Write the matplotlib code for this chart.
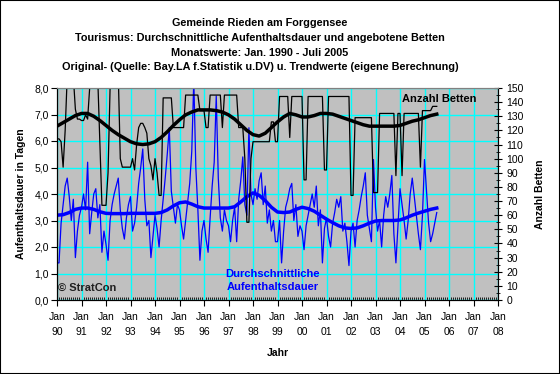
import numpy as np
import matplotlib
matplotlib.use('Agg')
import matplotlib.pyplot as plt
from matplotlib.ticker import MultipleLocator, FuncFormatter

plt.rcParams['font.family'] = ['Liberation Sans', 'DejaVu Sans']

# Monatswerte Jan. 1990 - Juli 2005
dauer = [
    1.4, 1.4, 2.9, 3.6, 4.3, 4.6, 3.9, 3.0, 3.8, 1.6, 2.6, 3.2,   # 1990
    3.5, 4.0, 3.4, 5.2, 2.5, 3.3, 4.0, 4.2, 3.1, 3.6, 1.8, 2.6,   # 1991
    2.1, 1.5, 3.0, 3.6, 4.0, 4.3, 4.6, 3.4, 2.7, 2.3, 3.1, 3.6,   # 1992
    3.9, 2.6, 2.9, 3.5, 4.4, 5.0, 5.7, 3.8, 2.8, 3.0, 1.6, 2.4,   # 1993
    3.2, 2.7, 2.0, 3.0, 3.8, 4.6, 5.5, 6.5, 4.1, 3.5, 2.9, 3.6,   # 1994
    3.4, 2.8, 2.3, 3.0, 3.7, 4.4, 5.6, 8.3, 5.0, 3.4, 1.5, 2.6,   # 1995
    3.0, 2.3, 1.8, 3.1, 4.3, 5.2, 7.7, 4.6, 3.1, 2.6, 3.4, 3.0,   # 1996
    2.8, 2.2, 3.0, 3.5, 2.2, 3.8, 4.5, 5.4, 3.6, 3.2, 6.5, 4.0,   # 1997
    3.6, 4.2, 3.8, 4.5, 4.8, 3.6, 4.3, 2.9, 3.4, 2.6, 3.0, 2.2,   # 1998
    2.2, 3.0, 1.4, 2.6, 3.5, 3.8, 4.2, 4.4, 3.0, 3.6, 2.4, 2.8,   # 1999
    2.6, 1.9, 2.8, 3.2, 3.6, 4.0, 3.5, 4.3, 2.8, 3.4, 1.4, 2.7,   # 2000
    3.1, 2.4, 2.0, 2.9, 3.3, 3.8, 3.5, 3.9, 2.6, 2.9, 2.2, 1.3,   # 2001
    2.6, 2.9, 2.0, 3.0, 3.4, 3.9, 4.3, 4.8, 3.2, 2.7, 2.2, 5.3,   # 2002
    3.5, 2.6, 3.0, 2.0, 3.2, 3.9, 3.5, 4.0, 4.7, 2.5, 1.4, 2.8,   # 2003
    4.2, 3.6, 3.0, 2.3, 3.0, 4.0, 4.6, 3.9, 3.2, 2.5, 1.9, 3.2,   # 2004
    5.3, 4.1, 2.9, 2.2, 2.5, 2.9, 3.3,                            # 2005
]

betten = [
    114, 114, 112, 94, 120, 158, 165, 165, 158, 135, 128, 128,    # 1990
    127, 127, 131, 128, 150, 165, 165, 165, 155, 110, 67, 67,     # 1991
    67, 90, 150, 165, 165, 165, 160, 100, 94, 94, 94, 94,         # 1992
    94, 100, 92, 110, 122, 125, 125, 122, 118, 100, 95, 85,       # 1993
    100, 90, 74, 74, 143, 143, 143, 143, 143, 122, 122, 122,      # 1994
    122, 122, 122, 145, 145, 145, 145, 145, 145, 145, 134, 134,   # 1995
    134, 122, 122, 145, 145, 145, 145, 145, 145, 122, 145, 145,   # 1996
    145, 145, 145, 145, 145, 122, 122, 122, 100, 55, 55, 100,     # 1997
    112, 112, 112, 112, 112, 112, 112, 112, 112, 126, 126, 112,   # 1998
    112, 144, 144, 144, 144, 144, 115, 144, 144, 144, 144, 144,   # 1999
    144, 85, 85, 144, 144, 144, 144, 144, 144, 144, 144, 92,      # 2000
    92, 144, 144, 144, 144, 144, 144, 144, 144, 144, 144, 144,    # 2001
    74, 74, 129, 129, 129, 129, 129, 129, 129, 129, 129, 76,      # 2002
    76, 76, 132, 132, 132, 132, 132, 132, 132, 132, 88, 132,      # 2003
    132, 88, 132, 132, 132, 132, 132, 132, 132, 132, 94, 134,     # 2004
    134, 134, 134, 134, 137, 137, 137,                            # 2005
]

# Trendwerte, vierteljaehrlich (Jan, Apr, Jul, Okt)
dauer_trend = [
    3.20, 3.22, 3.30, 3.42, 3.47, 3.47, 3.42, 3.33, 3.27, 3.26, 3.26, 3.26,
    3.27, 3.27, 3.27, 3.27, 3.27, 3.30, 3.40, 3.55, 3.67, 3.70, 3.62, 3.52,
    3.47, 3.47, 3.47, 3.47, 3.47, 3.52, 3.70, 3.90, 4.04, 3.95, 3.75, 3.50,
    3.32, 3.30, 3.32, 3.42, 3.50, 3.45, 3.35, 3.20, 3.05, 2.92, 2.80, 2.72,
    2.70, 2.72, 2.80, 2.90, 2.98, 3.00, 3.00, 3.00, 3.02, 3.10, 3.20, 3.28,
    3.35, 3.42, 3.47,
]
betten_trend = [
    123, 125.5, 128, 130.5, 132, 132, 130, 127, 123.5, 120, 117, 114.5,
    112, 110.5, 110, 110.5, 112, 115, 119, 123.5, 127.5, 131, 133, 134.5,
    134.5, 134.5, 134, 133, 131, 128, 124, 120, 117, 116, 118, 122,
    126, 129.5, 132, 131, 129.5, 129.5, 130.5, 132, 132, 131.5, 130, 128.5,
    127, 125.5, 124, 123, 123, 123, 123, 123, 123.5, 125, 126.5, 127.5,
    129, 130.5, 131.5,
]

jahre = ['90', '91', '92', '93', '94', '95', '96', '97', '98', '99',
         '00', '01', '02', '03', '04', '05', '06', '07', '08']

x_monat = 1990 + np.arange(len(dauer)) / 12
x_trend = 1990 + 3 * np.arange(len(dauer_trend)) / 12

fig = plt.figure(figsize=(5.6, 3.74), dpi=100)
ax = fig.add_axes([57/560, 74/374, 441/560, 212/374])
ax.set_facecolor('#C0C0C0')
ax.set_xlim(1990, 2008)
ax.set_ylim(0, 8)
ax.set_axisbelow(True)
ax.grid(True, color='#00FFFF', lw=1)

ax.set_xticks(np.arange(1990, 2009))
ax.set_xticklabels(['Jan\n' + j for j in jahre], fontsize=7.5, linespacing=1.55)
ax.xaxis.set_minor_locator(MultipleLocator(1/12))
ax.tick_params(axis='x', which='major', length=4, direction='out', pad=5)
ax.tick_params(axis='x', which='minor', length=2, direction='in')
ax.yaxis.set_major_locator(MultipleLocator(1))
ax.yaxis.set_major_formatter(FuncFormatter(lambda v, p: f'{v:.1f}'.replace('.', ',')))
ax.tick_params(axis='y', length=4, labelsize=7.5, pad=2)

ax.plot(x_monat, dauer, color='#0000FF', lw=0.9)
ax.plot(x_trend, dauer_trend, color='#0000FF', lw=2.5)

ax2 = ax.twinx()
ax2.set_ylim(0, 150)
ax2.yaxis.set_major_locator(MultipleLocator(10))
ax2.yaxis.set_minor_locator(MultipleLocator(5))
ax2.tick_params(axis='y', which='major', length=6, direction='inout', labelsize=7.5, pad=3)
ax2.tick_params(axis='y', which='minor', length=3, direction='inout')
ax2.plot(x_monat, betten, color='black', lw=0.9)
ax2.plot(x_trend, betten_trend, color='black', lw=2.5)

for a in (ax, ax2):
    a.spines['top'].set_color('#808080')

ax.set_ylabel('Aufenthaltsdauer in Tagen', fontsize=7.5, fontweight='bold', labelpad=6)
ax2.set_ylabel('Anzahl Betten', fontsize=7.5, fontweight='bold', labelpad=8)
ax.set_xlabel('Jahr', fontsize=7.5, fontweight='bold', labelpad=8)

ax2.text(2005.6, 142, 'Anzahl Betten', fontsize=8, fontweight='bold', ha='center', va='center')
ax.text(1998.8, 0.75, 'Durchschnittliche\nAufenthaltsdauer', fontsize=8, fontweight='bold',
        color='#0000FF', ha='center', va='center', linespacing=1.35)
ax.text(1990.05, 0.45, '\u00a9 StratCon', fontsize=8, fontweight='bold', color='#202020',
        ha='left', va='center')

titel = ['Gemeinde Rieden am Forggensee',
         'Tourismus: Durchschnittliche Aufenthaltsdauer und angebotene Betten',
         'Monatswerte: Jan. 1990 - Juli 2005',
         'Original- (Quelle: Bay.LA f.Statistik u.DV) u. Trendwerte (eigene Berechnung)']
for i, t in enumerate(titel):
    fig.text(260/560, 1 - (23 + 14.8 * i)/374, t, ha='center', va='center',
             fontsize=7.8, fontweight='bold')

fig.patches.append(plt.Rectangle((0, 0), 1, 1, transform=fig.transFigure,
                                 fill=False, ec='black', lw=1.5))

fig.savefig('out.png', dpi=100)
